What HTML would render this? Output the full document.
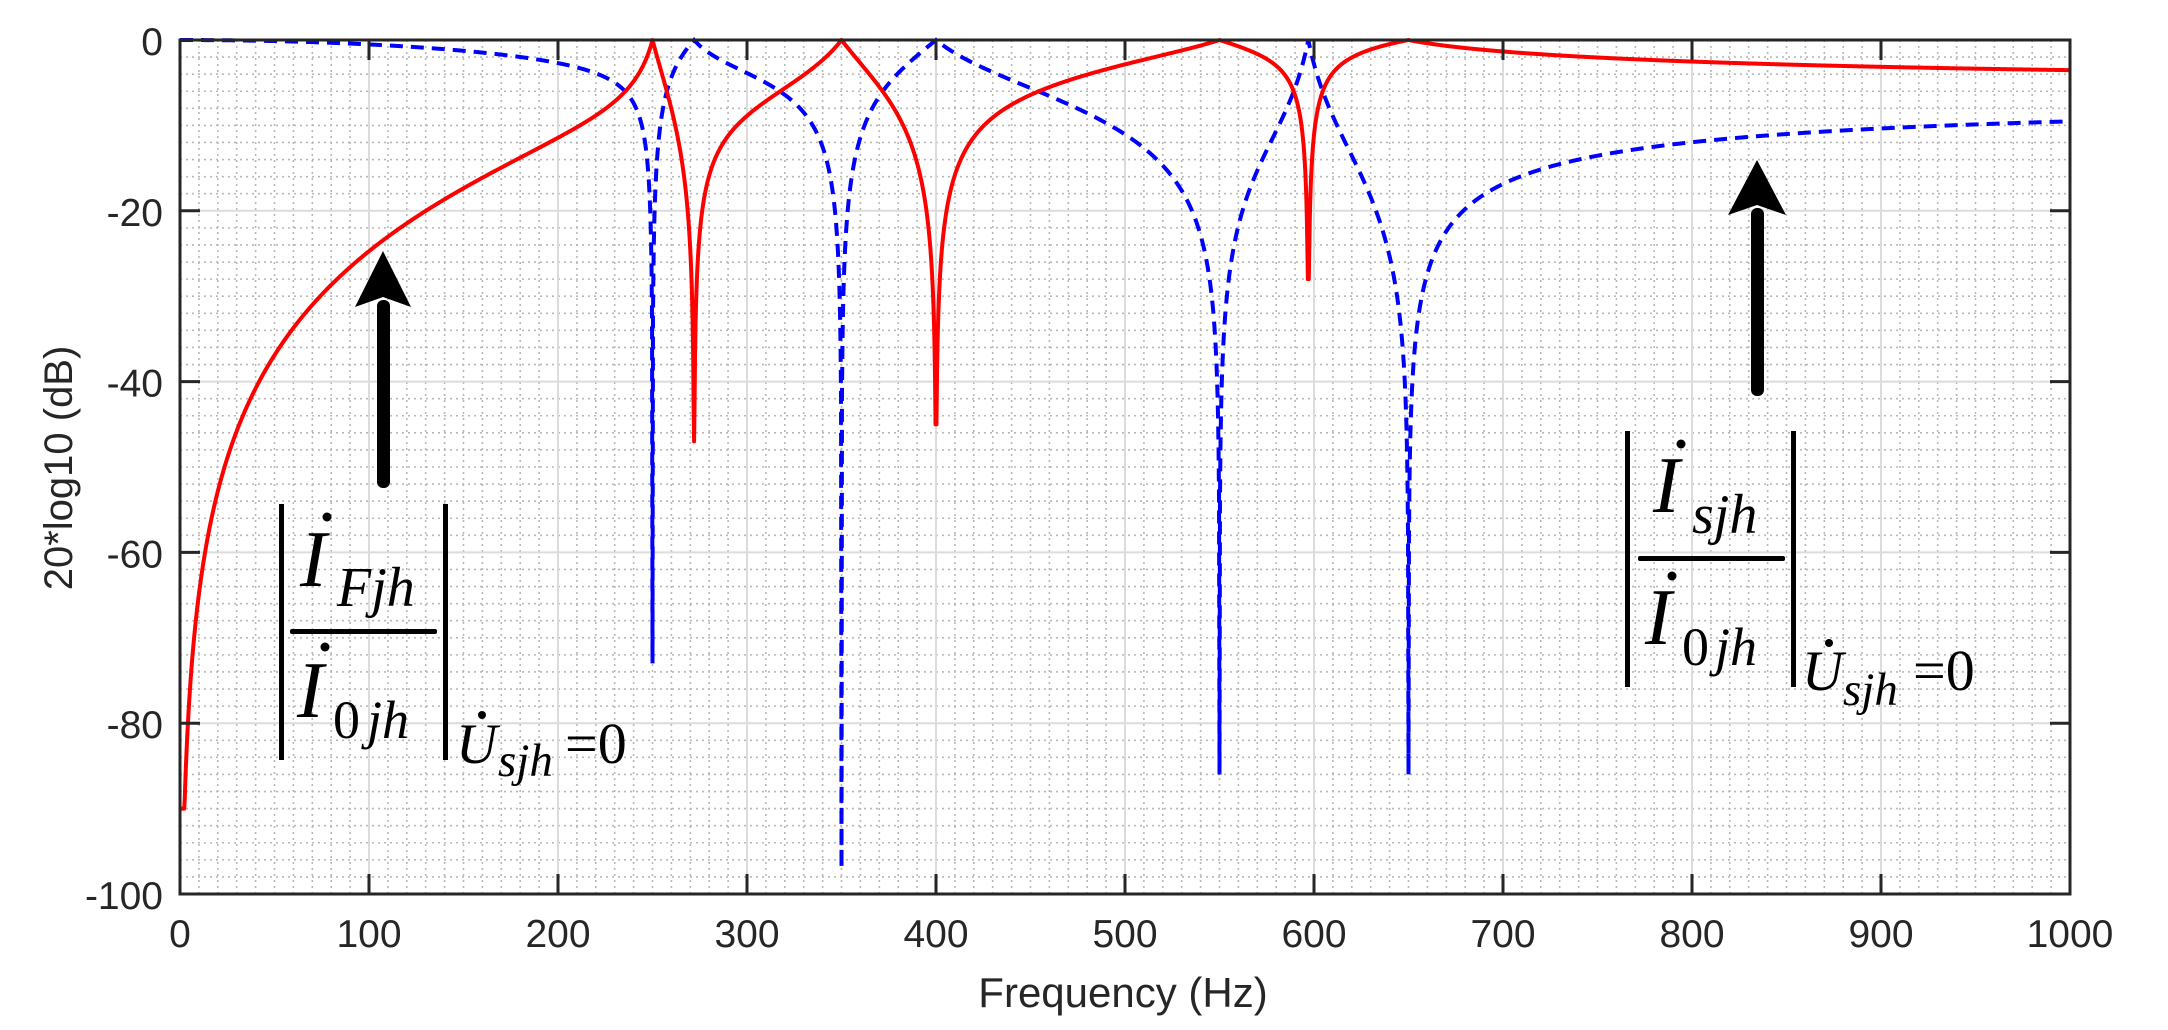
<!DOCTYPE html>
<html><head><meta charset="utf-8"><style>
html,body{margin:0;padding:0;background:#fff;}
svg{display:block;}
.t{font-family:"Liberation Sans",Arial,sans-serif;fill:#262626;}
.m{font-family:"Liberation Serif","Times New Roman",serif;fill:#000;}
</style></head><body>
<svg id="s" width="2168" height="1030" viewBox="0 0 2168 1030" xmlns="http://www.w3.org/2000/svg">
<rect width="2168" height="1030" fill="#fff"/>
<g id="grid"></g>
<path id="blue" fill="none" stroke="#0000ff" stroke-width="4" stroke-dasharray="13,8"/>
<path id="red" fill="none" stroke="#ff0000" stroke-width="4" stroke-linejoin="round"/>
<g id="axes"></g>
<g id="labels"></g>
<text class="t" x="1123" y="1007" font-size="42" text-anchor="middle">Frequency (Hz)</text>
<text class="t" transform="translate(72,468) rotate(-90)" font-size="40" text-anchor="middle">20*log10 (dB)</text>

<!-- left annotation -->
<rect x="377" y="300" width="13" height="188" rx="6" fill="#000"/>
<polygon points="383,251 355,307 383,297 411,307" fill="#000"/>
<rect x="279" y="504" width="5" height="256" fill="#000"/>
<rect x="443" y="504" width="5" height="256" fill="#000"/>
<rect x="290" y="629" width="147" height="5" rx="2" fill="#000"/>
<text class="m" x="300" y="586" font-size="80" font-style="italic">I</text>
<circle cx="327" cy="517" r="4.5" fill="#000"/>
<text class="m" x="337" y="606" font-size="56" font-style="italic">Fjh</text>
<text class="m" x="297" y="717" font-size="80" font-style="italic">I</text>
<circle cx="325" cy="647" r="4.5" fill="#000"/>
<text class="m" x="333" y="738" font-size="54">0</text>
<text class="m" x="367" y="738" font-size="54" font-style="italic">jh</text>
<text class="m" x="456" y="763" font-size="57" font-style="italic">U</text>
<circle cx="482" cy="715" r="4" fill="#000"/>
<text class="m" x="498" y="776" font-size="47" font-style="italic">sjh</text>
<text class="m" x="565" y="763" font-size="58">=0</text>

<!-- right annotation -->
<rect x="1751" y="208" width="13" height="188" rx="6" fill="#000"/>
<polygon points="1757,160 1728,215 1757,205 1786,215" fill="#000"/>
<rect x="1625" y="431" width="5" height="256" fill="#000"/>
<rect x="1791" y="431" width="5" height="256" fill="#000"/>
<rect x="1638" y="556" width="147" height="5" rx="2" fill="#000"/>
<text class="m" x="1653" y="512" font-size="80" font-style="italic">I</text>
<circle cx="1681" cy="444" r="4.5" fill="#000"/>
<text class="m" x="1692" y="533" font-size="56" font-style="italic">sjh</text>
<text class="m" x="1645" y="644" font-size="80" font-style="italic">I</text>
<circle cx="1672" cy="576" r="4.5" fill="#000"/>
<text class="m" x="1682" y="665" font-size="54">0</text>
<text class="m" x="1715" y="665" font-size="54" font-style="italic">jh</text>
<text class="m" x="1802" y="690" font-size="57" font-style="italic">U</text>
<circle cx="1829" cy="643" r="4" fill="#000"/>
<text class="m" x="1843" y="705" font-size="47" font-style="italic">sjh</text>
<text class="m" x="1913" y="690" font-size="58">=0</text>
</svg>
<script>
(function(){
var NS="http://www.w3.org/2000/svg";
var L=180,R=2070,T=40,B=894;
function X(f){return L+f*(R-L)/1000;}
function Y(d){return T+(-d)*(B-T)/100;}
function el(p,tag,a,txt){var e=document.createElementNS(NS,tag);for(var k in a)e.setAttribute(k,a[k]);if(txt!==undefined)e.textContent=txt;p.appendChild(e);return e;}
var g=document.getElementById('grid');
var d="";
for(var f=10;f<1000;f+=10){if(f%100)d+="M"+X(f)+" "+T+"V"+B;}
for(var v=-2;v>-100;v-=2){if(v%20)d+="M"+L+" "+Y(v)+"H"+R;}
el(g,'path',{d:d,stroke:'#b8b8b8','stroke-width':1.6,'stroke-dasharray':'2,4',fill:'none'});
d="";
for(var f=100;f<1000;f+=100)d+="M"+X(f)+" "+T+"V"+B;
for(var v=-20;v>-100;v-=20)d+="M"+L+" "+Y(v)+"H"+R;
el(g,'path',{d:d,stroke:'#dcdcdc','stroke-width':2,fill:'none'});
var Z=[272,400,597],P=[250,350,550,650],k=1.32;
function Rv(f){var n=f*f,dd=1;for(var i=0;i<Z.length;i++)n*=(f*f-Z[i]*Z[i]);for(var i=0;i<P.length;i++)dd*=(f*f-P[i]*P[i]);return Math.abs(k*n/dd);}
var rf={272:-47,400:-45,597:-28},bf={250:-73,350:-97,550:-86,650:-86};
function nearest(f,obj){var best=null,bd=1e9;for(var key in obj){var dd=Math.abs(f-key);if(dd<bd){bd=dd;best=obj[key];}}return best;}
var rd="",bd="";
var pts=[];
for(var f=0.25;f<=1000;f+=0.25)pts.push(f);
[272,400,597,250,350,550,650].forEach(function(x){pts.push(x);});
pts.sort(function(a,b){return a-b;});
var first=true;
for(var i=0;i<pts.length;i++){
 var f=pts[i],r=Rv(f),red,blue;
 if(!isFinite(r)){red=0;blue=nearest(f,bf);}
 else{
  red=r===0?-999:20*Math.log10(r/(1+r));
  blue=-20*Math.log10(1+r);
 }
 if(f<100){red=Math.max(red,-90);}else{red=Math.max(red,nearest(f,rf));}
 blue=Math.max(blue,nearest(f,bf));
 if(Rv(f)===0)red=nearest(f,rf);
 rd+=(first?"M":"L")+X(f).toFixed(2)+" "+Y(red).toFixed(2);
 bd+=(first?"M":"L")+X(f).toFixed(2)+" "+Y(blue).toFixed(2);
 first=false;
}
bd="M"+L+" "+Y(0)+bd.replace(/^M/,"L");
document.getElementById('red').setAttribute('d',rd);
document.getElementById('blue').setAttribute('d',bd);
var a=document.getElementById('axes');
d="";
for(var f=100;f<1000;f+=100)d+="M"+X(f)+" "+B+"v-20M"+X(f)+" "+T+"v20";
for(var v=-20;v>-100;v-=20)d+="M"+L+" "+Y(v)+"h20M"+R+" "+Y(v)+"h-20";
el(a,'path',{d:d,stroke:'#262626','stroke-width':3,fill:'none'});
el(a,'rect',{x:L,y:T,width:R-L,height:B-T,fill:'none',stroke:'#262626','stroke-width':3});
var lb=document.getElementById('labels');
for(var f=0;f<=1000;f+=100){
 el(lb,'text',{'class':'t',x:X(f),y:947,'font-size':39,'text-anchor':'middle'},String(f));}
for(var v=0;v>=-100;v-=20){
 el(lb,'text',{'class':'t',x:163,y:Y(v)+15,'font-size':39,'text-anchor':'end'},String(v));}
})();
</script>
</body></html>
